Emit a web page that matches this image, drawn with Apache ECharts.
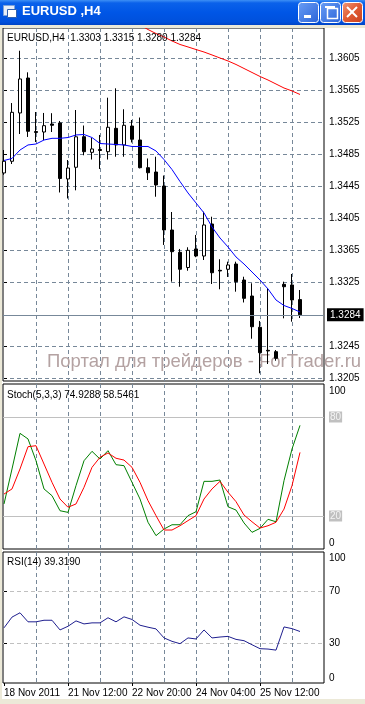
<!DOCTYPE html>
<html><head><meta charset="utf-8">
<script src="https://cdn.jsdelivr.net/npm/echarts@6/dist/echarts.min.js"></script>
<style>html,body{margin:0;padding:0;background:#fff;overflow:hidden}#c{width:365px;height:704px}</style>
</head><body><div id="c"></div>
<script>
// ---- data ----
const barIndex = [0,1,2,3,4,5,6,7,8,9,10,11,12,13,14,15,16,17,18,19,20,21,22,23,24,25,26,27,28,29,30,31,32,33,34,35,36,37];
const opens  = [1.34613,1.34759,1.35363,1.35800,1.35130,1.35125,1.35225,1.35238,1.34538,1.34684,1.35066,1.34871,1.34906,1.34879,1.35171,1.34963,1.35200,1.35025,1.34679,1.34625,1.34450,1.33900,1.33621,1.33431,1.33663,1.33575,1.33975,1.33396,1.33409,1.33475,1.33275,1.33075,1.32684,1.32396,1.32379,1.33221,1.33213,1.33030];
const highs  = [1.34900,1.35487,1.36141,1.35871,1.35375,1.35363,1.35360,1.35263,1.34775,1.35400,1.35206,1.35050,1.35088,1.35554,1.35671,1.35409,1.35275,1.35306,1.34794,1.34816,1.34581,1.34125,1.33663,1.33684,1.33838,1.34129,1.34066,1.33534,1.33504,1.33504,1.33316,1.33234,1.32763,1.33175,1.32400,1.33254,1.33350,1.33150];
const lows   = [1.34590,1.34725,1.35100,1.35063,1.35000,1.35025,1.35125,1.34369,1.34294,1.34396,1.34834,1.34781,1.34663,1.34781,1.34816,1.34816,1.34994,1.34670,1.34525,1.34316,1.33713,1.33254,1.33191,1.33391,1.33560,1.33525,1.33225,1.33159,1.33313,1.33129,1.32994,1.32541,1.32109,1.32225,1.32266,1.32796,1.32754,1.32800];
const closes = [1.34759,1.35371,1.35788,1.35134,1.35120,1.35204,1.35209,1.34544,1.34675,1.35065,1.34879,1.34913,1.34894,1.35184,1.34963,1.35209,1.35034,1.34679,1.34616,1.34463,1.33900,1.33629,1.33409,1.33646,1.33575,1.33963,1.33366,1.33388,1.33463,1.33254,1.33046,1.32691,1.32366,1.32388,1.32296,1.33191,1.33025,1.32840];
const maValues = [1.34769,1.34794,1.34900,1.34963,1.34975,1.35025,1.35046,1.35046,1.35056,1.35088,1.35094,1.35056,1.34981,1.34975,1.34969,1.34963,1.34944,1.34944,1.34944,1.34888,1.34781,1.34656,1.34506,1.34363,1.34238,1.34113,1.33938,1.33800,1.33688,1.33563,1.33475,1.33375,1.33275,1.33163,1.33025,1.32956,1.32919,1.32875];
const redBars = [17,18,19,20,21,22,23,24,25,26,27,28,29,30,31,32,33,34,35,36,37];
const redValues = [1.36463,1.36406,1.36356,1.36313,1.36263,1.36219,1.36188,1.36156,1.36125,1.36088,1.36050,1.36013,1.35969,1.35919,1.35869,1.35819,1.35775,1.35725,1.35675,1.35638,1.35594];
const stochMain = [27.3,48.5,70.1,66.7,53.5,36.4,32.3,23.2,22.2,38.4,53.5,59.2,54.5,59.6,51.1,50.5,40.4,30.3,16.2,8.1,12.1,14.7,14.7,20.2,22.6,41.0,41.0,41.8,25.6,23.6,15.8,10.1,12.5,18.0,16.5,41.4,60.6,74.93];
const stochSignal = [33.3,36.4,48.5,62.0,62.6,51.5,40.4,30.3,25.3,27.3,37.4,49.5,55.6,58.2,55.0,53.9,49.5,40.4,29.3,20.2,11.5,11.5,14.1,17.2,20.2,30.3,36.4,41.0,34.4,28.7,20.6,16.5,12.7,14.1,16.2,24.2,38.4,58.55];
const rsiValues = [42.1,50.3,53.6,46.7,46.7,47.9,47.9,40.5,43.3,47.4,45.1,45.9,45.9,49.8,46.7,50.5,48.5,44.1,42.6,41.3,34.4,31.8,30.0,34.4,33.6,40.5,34.4,35.1,35.6,33.3,32.3,29.2,26.2,25.9,25.1,42.8,41.5,39.32];
const priceTicks = [1.3205,1.3245,1.3325,1.3365,1.3405,1.3445,1.3485,1.3525,1.3565,1.3605];
const lastPrice = 1.3284;
const stochLabels = [0,20,80,100];
const stochLevels = [20,80];
const rsiLabels = [0,30,70,100];
const rsiLevels = [30,70];
const timeLabels = ['18 Nov 2011','21 Nov 12:00','22 Nov 20:00','24 Nov 04:00','25 Nov 12:00'];
const timeLabelBars = [0,8,16,24,32];
const gridBars = [4,8,12,16,20,24,28,32,36];
const mainTitle = 'EURUSD,H4  1.3303 1.3315 1.3280 1.3284';
const stochTitle = 'Stoch(5,3,3) 74.9288 58.5461';
const rsiTitle = 'RSI(14) 39.3190';
const watermark = 'Портал для трейдеров - ForTrader.ru';
const windowTitle = 'EURUSD ,H4';

// ---- chart ----
const FONT = '"Liberation Sans", Arial, sans-serif';
const GRID_COLOR = '#778899';
const candleData = barIndex.map((k, i) => [k, opens[i], closes[i], lows[i], highs[i]]);
const pairs = (xs, ys) => xs.map((x, i) => [x, ys[i]]);

function vx(gridIndex) {
  return {
    type: 'value', gridIndex, min: -0.125, max: 40,
    axisLine: {show: false},
    axisTick: {show: false, customValues: gridBars},
    axisLabel: {show: false},
    splitLine: {show: true, lineStyle: {color: GRID_COLOR, width: 1, type: [4, 3]}}
  };
}
const labelStyle = {fontSize: 10, color: '#000', fontFamily: FONT};

const option = {
  animation: false,
  backgroundColor: '#fff',
  title: [
    {text: mainTitle, left: 7, top: 33, padding: 0, textStyle: Object.assign({fontWeight: 'normal'}, labelStyle)},
    {text: stochTitle, left: 7, top: 390, padding: 0, textStyle: Object.assign({fontWeight: 'normal'}, labelStyle)},
    {text: rsiTitle, left: 7, top: 557, padding: 0, textStyle: Object.assign({fontWeight: 'normal'}, labelStyle)}
  ],
  grid: [
    {left: 3, top: 28, width: 321, height: 353, show: true, borderColor: '#000', borderWidth: 1, backgroundColor: 'transparent'},
    {left: 3, top: 384, width: 321, height: 165, show: true, borderColor: '#000', borderWidth: 1, backgroundColor: 'transparent'},
    {left: 3, top: 552, width: 321, height: 131, show: true, borderColor: '#000', borderWidth: 1, backgroundColor: 'transparent'}
  ],
  xAxis: [
    vx(0), vx(1), vx(2),
    {
      type: 'value', gridIndex: 2, min: -0.125, max: 40, position: 'bottom',
      axisLine: {show: false},
      axisTick: {show: true, length: 3, customValues: timeLabelBars, lineStyle: {color: '#000'}},
      axisLabel: Object.assign({customValues: timeLabelBars, align: 'left', margin: 5,
        formatter: v => timeLabels[timeLabelBars.indexOf(v)]}, labelStyle),
      splitLine: {show: false}
    }
  ],
  yAxis: [
    {
      type: 'value', gridIndex: 0, position: 'right', min: 1.320125, max: 1.36425,
      axisLine: {show: false},
      axisTick: {show: true, length: 3, customValues: priceTicks, lineStyle: {color: '#000'}},
      axisLabel: Object.assign({customValues: priceTicks, margin: 5, formatter: v => v.toFixed(4)}, labelStyle),
      splitLine: {show: true, lineStyle: {color: GRID_COLOR, width: 1, type: [4, 3]}}
    },
    {
      type: 'value', gridIndex: 1, position: 'right', min: 0, max: 100,
      axisLine: {show: false},
      axisTick: {show: false, customValues: stochLevels},
      axisLabel: Object.assign({customValues: stochLabels, margin: 5,
        formatter: v => v === 100 ? '{top|100}' : v === 0 ? '{bot|0}' : '{lv|' + v + '}',
        rich: {
          top: {padding: [14, 0, 0, 0], fontSize: 10, fontFamily: FONT, color: '#000'},
          bot: {padding: [0, 0, 12, 0], fontSize: 10, fontFamily: FONT, color: '#000'},
          lv: {backgroundColor: '#c0c0c0', color: '#f4f4f4', fontSize: 10, fontFamily: FONT, padding: [1, 1, 0, 1]}
        }}, labelStyle),
      splitLine: {show: true, lineStyle: {color: '#c0c0c0', width: 1, type: 'solid'}}
    },
    {
      type: 'value', gridIndex: 2, position: 'right', min: 0, max: 100,
      axisLine: {show: false},
      axisTick: {show: true, length: 3, customValues: rsiLevels, lineStyle: {color: '#000'}},
      axisLabel: Object.assign({customValues: rsiLabels, margin: 5,
        formatter: v => v === 100 ? '{top|100}' : v === 0 ? '{bot|0}' : String(v),
        rich: {
          top: {padding: [12, 0, 0, 0], fontSize: 10, fontFamily: FONT, color: '#000'},
          bot: {padding: [0, 0, 10, 0], fontSize: 10, fontFamily: FONT, color: '#000'}
        }}, labelStyle),
      splitLine: {show: true, lineStyle: {color: '#c0c0c0', width: 1, type: [4, 3]}}
    }
  ],
  graphic: [
    // window title bar
    {type: 'rect', left: 0, top: 0, shape: {width: 365, height: 25}, z: 100,
      style: {fill: new echarts.graphic.LinearGradient(0, 0, 0, 1, [
        {offset: 0, color: '#3d8ff5'}, {offset: 0.12, color: '#0a61ea'}, {offset: 0.5, color: '#0056e6'},
        {offset: 0.88, color: '#0050dc'}, {offset: 1, color: '#0043c4'}])}},
    {type: 'rect', left: 0, top: 25, shape: {width: 365, height: 3}, z: 100, style: {fill: '#ece9d8'}},
    {type: 'rect', left: 0, top: 25, shape: {width: 2, height: 679}, z: 100, style: {fill: '#ece9d8'}},
    {type: 'rect', left: 0, top: 699, shape: {width: 365, height: 5}, z: 100, style: {fill: '#ece9d8'}},
    // icon
    {type: 'rect', left: 3, top: 5, shape: {width: 11, height: 10}, z: 101, style: {fill: '#e8eef8', stroke: '#7fa3d8', lineWidth: 1}},
    {type: 'rect', left: 7, top: 9, shape: {width: 9, height: 8}, z: 102, style: {fill: '#ffffff', stroke: '#3060b0', lineWidth: 1}},
    {type: 'text', left: 22, top: 5, z: 101, style: {text: windowTitle, fill: '#fff', font: 'bold 13px "Liberation Sans Narrow", "Liberation Sans", Arial'}},
    // buttons
    {type: 'rect', left: 298, top: 2, shape: {width: 20, height: 20, r: 3}, z: 101,
      style: {fill: new echarts.graphic.LinearGradient(0, 0, 1, 1, [{offset: 0, color: '#6a9ef5'}, {offset: 1, color: '#2a63d8'}]), stroke: '#fff', lineWidth: 1}},
    {type: 'rect', left: 304, top: 15, shape: {width: 7, height: 3}, z: 102, style: {fill: '#fff'}},
    {type: 'rect', left: 320, top: 2, shape: {width: 20, height: 20, r: 3}, z: 101,
      style: {fill: new echarts.graphic.LinearGradient(0, 0, 1, 1, [{offset: 0, color: '#6a9ef5'}, {offset: 1, color: '#2a63d8'}]), stroke: '#fff', lineWidth: 1}},
    {type: 'rect', left: 325, top: 6, shape: {width: 10, height: 10}, z: 102, style: {fill: 'none', stroke: '#fff', lineWidth: 1.5}},
    {type: 'rect', left: 325, top: 6, shape: {width: 10, height: 2}, z: 102, style: {fill: '#fff'}},
    {type: 'rect', left: 342, top: 2, shape: {width: 20, height: 20, r: 3}, z: 101,
      style: {fill: new echarts.graphic.LinearGradient(0, 0, 1, 1, [{offset: 0, color: '#f09a7a'}, {offset: 0.5, color: '#e05a32'}, {offset: 1, color: '#c8401e'}]), stroke: '#fff', lineWidth: 1}},
    {type: 'line', shape: {x1: 347, y1: 7, x2: 357, y2: 17}, z: 102, style: {stroke: '#fff', lineWidth: 2}},
    {type: 'line', shape: {x1: 357, y1: 7, x2: 347, y2: 17}, z: 102, style: {stroke: '#fff', lineWidth: 2}},
    // watermark
    {type: 'text', left: 47, top: 352, z: 1, silent: true,
      style: {text: watermark, fill: '#b4a2a2', font: '18.5px "Liberation Sans", Arial'}}
  ],
  series: [
    {
      type: 'candlestick', xAxisIndex: 0, yAxisIndex: 0, barWidth: 4,
      encode: {x: 0, y: [1, 2, 3, 4]},
      data: candleData,
      itemStyle: {color: '#fff', color0: '#000', borderColor: '#000', borderColor0: '#000', borderColorDoji: '#000', borderWidth: 1}
    },
    {type: 'line', xAxisIndex: 0, yAxisIndex: 0, data: pairs(barIndex, maValues), showSymbol: false, lineStyle: {color: '#0000ff', width: 1},
      markLine: {
        silent: true, symbol: ['none', 'none'], precision: 4,
        lineStyle: {color: GRID_COLOR, width: 1, type: 'solid'},
        label: {show: true, position: 'end', distance: 3, formatter: lastPrice.toFixed(4), backgroundColor: '#000', color: '#fff',
          padding: [2, 3, 1, 3], fontSize: 10, fontFamily: FONT},
        data: [{yAxis: lastPrice}]
      }
    },
    {type: 'line', xAxisIndex: 0, yAxisIndex: 0, data: pairs(redBars, redValues), showSymbol: false, lineStyle: {color: '#ff0000', width: 1}},
    {type: 'line', xAxisIndex: 1, yAxisIndex: 1, data: pairs(barIndex, stochMain), showSymbol: false, lineStyle: {color: '#008000', width: 1}},
    {type: 'line', xAxisIndex: 1, yAxisIndex: 1, data: pairs(barIndex, stochSignal), showSymbol: false, lineStyle: {color: '#ff0000', width: 1}},
    {type: 'line', xAxisIndex: 2, yAxisIndex: 2, data: pairs(barIndex, rsiValues), showSymbol: false, lineStyle: {color: '#1f1f8f', width: 1}}
  ]
};
const chart = echarts.init(document.getElementById('c'));
chart.setOption(option);
</script>
</body></html>
